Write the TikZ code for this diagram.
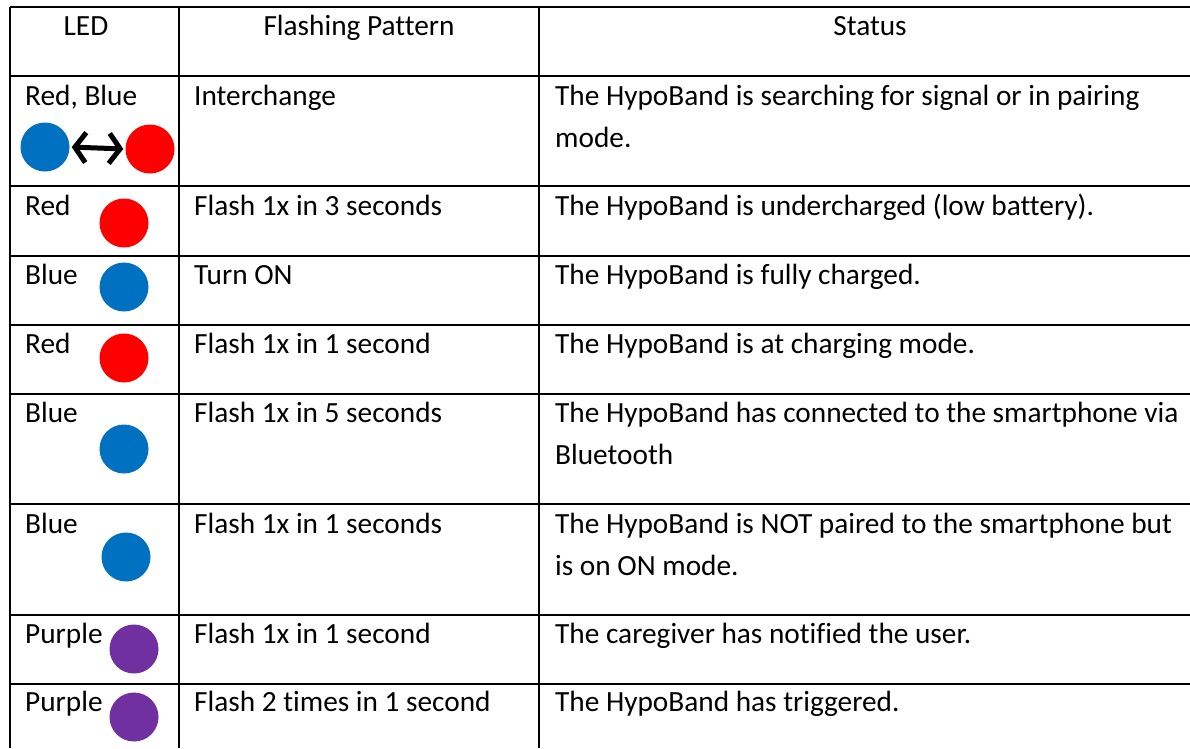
\documentclass[tikz,border=0pt]{standalone}
\usepackage{fontspec}
\setmainfont{Carlito}[Ligatures=NoCommon]
\usetikzlibrary{arrows.meta}
\definecolor{ledblue}{HTML}{0070C0}
\definecolor{ledred}{HTML}{FF0000}
\definecolor{ledpurple}{HTML}{7030A0}
\tikzset{ledbarb/.tip={Straight Barb[length=11pt,width=30pt]}}
\begin{document}
\begin{tikzpicture}[x=1pt,y=-1pt,
  grid/.style={line width=1.5pt, black},
  txt/.style={anchor=base west, inner sep=0pt, align=left, font=\fontsize{29.3pt}{42pt}\selectfont},
  hdr/.style={anchor=base, inner sep=0pt, font=\fontsize{29.3pt}{42pt}\selectfont},
  led/.style={circle, inner sep=0pt, minimum size=49pt, draw=none, fill=#1},
  swap/.style={line width=5pt, ledbarb-ledbarb, shorten <=2pt, shorten >=2pt}]
\useasboundingbox (0,0) rectangle (1190,748);
\fill[white] (0,0) rectangle (1190,748);
% grid
\foreach \y in {7,76,186,256,325,394,504,615,684}
  \draw[grid] (10,\y) -- (1190,\y);
\foreach \x in {10,179,539}
  \draw[grid] (\x,7) -- (\x,748);
% header
\node[hdr] (h1) at (86,35) {LED};
\node[hdr] (h2) at (359,35) {Flashing Pattern};
\node[hdr] (h3) at (870,35) {Status};
% row 1 (multi-line nodes: base is the last line)
\node[txt] (a1) at (25,105) {Red, Blue};
\node[txt] (b1) at (194,105) {Interchange};
\node[txt] (c1) at (555,147) {The HypoBand is searching for signal or in pairing\\mode.};
\node[led=ledblue] (l1b) at (45,147) {};
\node[led=ledred] (l1r) at (150,149) {};
\draw[swap] (l1b.east) -- (l1r.west);
% row 2
\node[txt] (a2) at (25,215) {Red};
\node[txt] (b2) at (194,215) {Flash 1x in 3 seconds};
\node[txt] (c2) at (555,215) {The HypoBand is undercharged (low battery).};
\node[led=ledred] (l2) at (124,223) {};
% row 3
\node[txt] (a3) at (25,284) {Blue};
\node[txt] (b3) at (194,284) {Turn ON};
\node[txt] (c3) at (555,284) {The HypoBand is fully charged.};
\node[led=ledblue] (l3) at (124,287) {};
% row 4
\node[txt] (a4) at (25,353) {Red};
\node[txt] (b4) at (194,353) {Flash 1x in 1 second};
\node[txt] (c4) at (555,353) {The HypoBand is at charging mode.};
\node[led=ledred] (l4) at (124,358) {};
% row 5
\node[txt] (a5) at (25,422) {Blue};
\node[txt] (b5) at (194,422) {Flash 1x in 5 seconds};
\node[txt] (c5) at (555,464) {The HypoBand has connected to the smartphone via\\Bluetooth};
\node[led=ledblue] (l5) at (124,449) {};
% row 6
\node[txt] (a6) at (25,533) {Blue};
\node[txt] (b6) at (194,533) {Flash 1x in 1 seconds};
\node[txt] (c6) at (555,575) {The HypoBand is NOT paired to the smartphone but\\is on ON mode.};
\node[led=ledblue] (l6) at (126,557) {};
% row 7
\node[txt] (a7) at (25,643) {Purple};
\node[txt] (b7) at (194,643) {Flash 1x in 1 second};
\node[txt] (c7) at (555,643) {The caregiver has notified the user.};
\node[led=ledpurple] (l7) at (134,649) {};
% row 8
\node[txt] (a8) at (25,711) {Purple};
\node[txt] (b8) at (194,711) {Flash 2 times in 1 second};
\node[txt] (c8) at (555,711) {The HypoBand has triggered.};
\node[led=ledpurple] (l8) at (134,717) {};
\end{tikzpicture}
\end{document}
